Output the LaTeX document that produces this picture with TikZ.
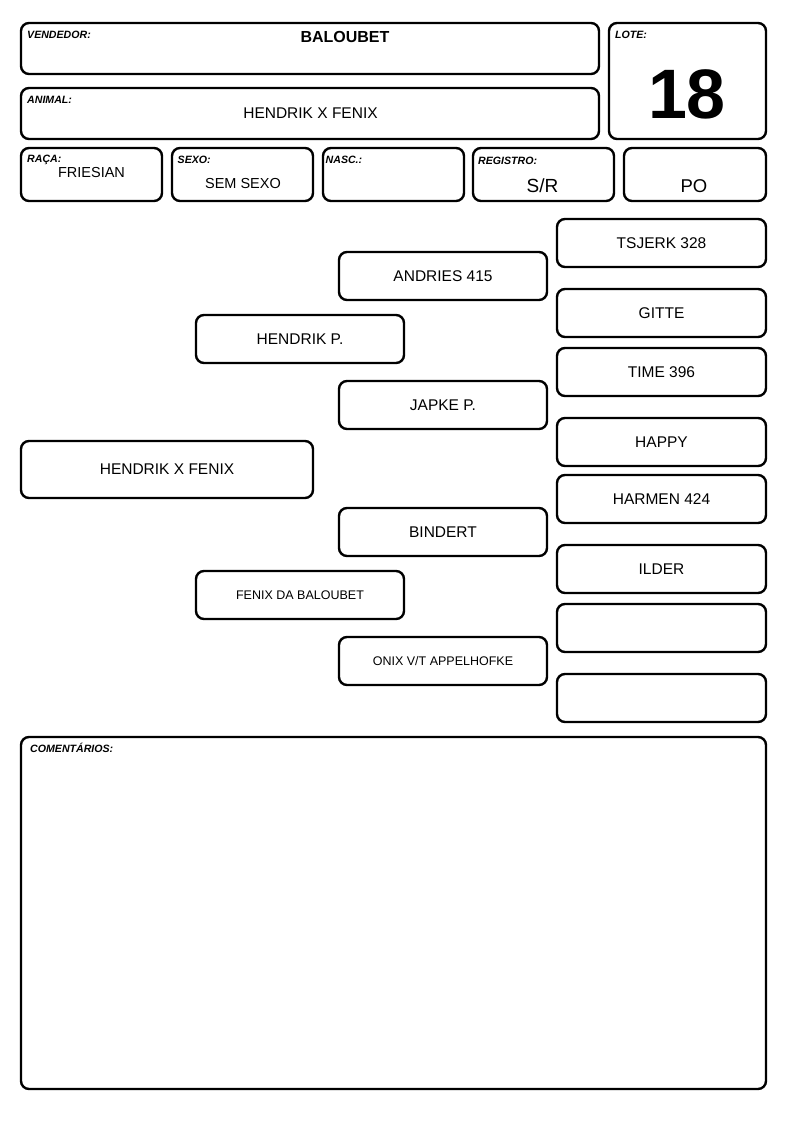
\documentclass[tikz,border=0pt]{standalone}
\usepackage{fontspec}
\setmainfont{Liberation Sans}
\usetikzlibrary{shapes}

\begin{document}
\begin{tikzpicture}[x = 1pt, y = -1pt]
\tikzstyle{BoxStyle}=[shape = rectangle,
                      draw,
                      line width = 2.4pt,
                      rounded corners = 8pt,
                      inner sep = 0pt,
                      outer sep = 0pt]
\tikzstyle{PedStyle}=[BoxStyle,
                      minimum width = 208pt,
                      minimum height = 48pt,
                      font = \fontsize{15.5}{18}\selectfont]
\tikzstyle{SmallPedStyle}=[PedStyle,
                      font = \fontsize{12.5}{15}\selectfont]
\tikzstyle{TagStyle}=[anchor = base west,
                      inner sep = 0pt,
                      font = \fontsize{10.6}{12}\selectfont\bfseries\itshape]
\tikzstyle{ValueStyle}=[anchor = base,
                      inner sep = 0pt,
                      font = \fontsize{15.5}{18}\selectfont]
\path[fill = white, use as bounding box] (0,0) rectangle (794,1123);
% header
\node[BoxStyle, minimum width = 578pt, minimum height = 51pt] (vendedor) at (310, 48.5) {};
\node[BoxStyle, minimum width = 578pt, minimum height = 51pt] (animal) at (310, 113.5) {};
\node[BoxStyle, minimum width = 157pt, minimum height = 116pt] (lote) at (687.5, 81) {};
\node[BoxStyle, minimum width = 141pt, minimum height = 53pt] (raca) at (91.5, 174.5) {};
\node[BoxStyle, minimum width = 141pt, minimum height = 53pt] (sexo) at (242.5, 174.5) {};
\node[BoxStyle, minimum width = 141pt, minimum height = 53pt] (nasc) at (393.5, 174.5) {};
\node[BoxStyle, minimum width = 141pt, minimum height = 53pt] (registro) at (543.5, 174.5) {};
\node[BoxStyle, minimum width = 142pt, minimum height = 53pt] (po) at (695, 174.5) {};
\node[TagStyle] (vendedortag) at (27, 39) {VENDEDOR:};
\node[TagStyle] (animaltag) at (27, 103.5) {ANIMAL:};
\node[TagStyle] (lotetag) at (615, 39) {LOTE:};
\node[TagStyle] (racatag) at (27, 163) {RAÇA:};
\node[TagStyle] (sexotag) at (177.5, 164) {SEXO:};
\node[TagStyle] (nasctag) at (325.5, 164) {NASC.:};
\node[TagStyle] (registrotag) at (478, 165) {REGISTRO:};
\node[ValueStyle, font = \fontsize{16}{19}\selectfont\bfseries] (vendedorval) at (345, 43) {BALOUBET};
\node[ValueStyle] (animalval) at (310.5, 119) {HENDRIK X FENIX};
\node[ValueStyle, font = \fontsize{70}{80}\selectfont\bfseries] (loteval) at (687, 118.5) {18};
\node[ValueStyle, font = \fontsize{14.5}{17}\selectfont] (racaval) at (91.5, 177.5) {FRIESIAN};
\node[ValueStyle, font = \fontsize{14.5}{17}\selectfont] (sexoval) at (243, 189) {SEM SEXO};
\node[ValueStyle, font = \fontsize{19}{22}\selectfont] (registroval) at (542.5, 193) {S/R};
\node[ValueStyle, font = \fontsize{18.5}{22}\selectfont] (poval) at (694, 193) {PO};
% pedigree
\node[PedStyle, minimum width = 292pt, minimum height = 57pt] (p0) at (167, 469.5) {HENDRIK X FENIX};
\node[PedStyle] (p1) at (300, 339) {HENDRIK P.};
\node[SmallPedStyle] (p2) at (300, 595) {FENIX DA BALOUBET};
\node[PedStyle] (p3) at (443, 276) {ANDRIES 415};
\node[PedStyle] (p4) at (443, 405) {JAPKE P.};
\node[PedStyle] (p5) at (443, 532) {BINDERT};
\node[SmallPedStyle] (p6) at (443, 661) {ONIX V/T APPELHOFKE};
\node[PedStyle, minimum width = 209pt] (p7) at (661.5, 243) {TSJERK 328};
\node[PedStyle, minimum width = 209pt] (p8) at (661.5, 313) {GITTE};
\node[PedStyle, minimum width = 209pt] (p9) at (661.5, 372) {TIME 396};
\node[PedStyle, minimum width = 209pt] (p10) at (661.5, 442) {HAPPY};
\node[PedStyle, minimum width = 209pt] (p11) at (661.5, 499) {HARMEN 424};
\node[PedStyle, minimum width = 209pt] (p12) at (661.5, 569) {ILDER};
\node[PedStyle, minimum width = 209pt] (p13) at (661.5, 628) {};
\node[PedStyle, minimum width = 209pt] (p14) at (661.5, 698) {};
% comments
\node[BoxStyle, minimum width = 745pt, minimum height = 352pt] (comentarios) at (393.5, 913) {};
\node[TagStyle] (comentariostag) at (30, 752) {COMENTÁRIOS:};
\end{tikzpicture}
\end{document}
